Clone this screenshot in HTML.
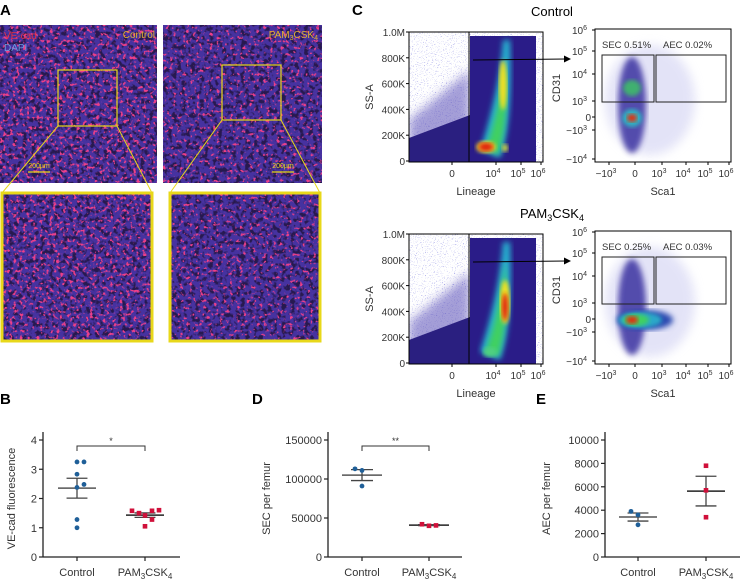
<!DOCTYPE html>
<html><head><meta charset="utf-8"><style>
body{margin:0;background:#fff;}
svg{display:block;font-family:"Liberation Sans",sans-serif;}
</style></head><body>
<svg id="fig" width="740" height="581" viewBox="0 0 740 581" xmlns="http://www.w3.org/2000/svg">
<defs>
<filter id="dark" x="0" y="0" width="100%" height="100%"><feTurbulence type="fractalNoise" baseFrequency="0.22" numOctaves="2" seed="3"/><feColorMatrix type="matrix" values="0 0 0 0 0.02  0 0 0 0 0.01  0 0 0 0 0.08  6 0 0 0 -2.9"/></filter>
<filter id="red" x="0" y="0" width="100%" height="100%"><feTurbulence type="fractalNoise" baseFrequency="0.3" numOctaves="2" seed="8"/><feColorMatrix type="matrix" values="0 0 0 0 0.85  0 0 0 0 0.05  0 0 0 0 0.25  7 0 0 0 -3.95"/></filter>
<filter id="red2" x="0" y="0" width="100%" height="100%"><feTurbulence type="fractalNoise" baseFrequency="0.3" numOctaves="2" seed="11"/><feColorMatrix type="matrix" values="0 0 0 0 0.85  0 0 0 0 0.05  0 0 0 0 0.25  7 0 0 0 -4.2"/></filter>
<filter id="dots" x="0" y="0" width="100%" height="100%"><feTurbulence type="fractalNoise" baseFrequency="0.9" numOctaves="1" seed="2"/><feColorMatrix type="matrix" values="0 0 0 0 0.35  0 0 0 0 0.35  0 0 0 0 0.8  6 0 0 0 -3.6"/></filter>
<filter id="blur3"><feGaussianBlur stdDeviation="3"/></filter>
<filter id="blur5"><feGaussianBlur stdDeviation="5"/></filter>
<filter id="blur2"><feGaussianBlur stdDeviation="2"/></filter>
</defs>
<g id="panelA"></g>
<g id="panelC"></g>
<g id="charts"></g>
</svg>
<script>
// ---- chart data ----
const groups = ["Control", "PAM3CSK4"];
const bControl = [3.25, 3.25, 2.83, 2.48, 2.38, 1.28, 1.0];
const bPam = [1.58, 1.5, 1.58, 1.6, 1.42, 1.28, 1.05];
const bTicks = [0, 1, 2, 3, 4];
const dControl = [113000, 111000, 91000];
const dPam = [42000, 40000, 40500];
const dTicks = [0, 50000, 100000, 150000];
const eControl = [3900, 3600, 2750];
const ePam = [7800, 5700, 3400];
const eTicks = [0, 2000, 4000, 6000, 8000, 10000];

const NS = "http://www.w3.org/2000/svg";
function mk(parent, tag, attrs, text) {
  const e = document.createElementNS(NS, tag);
  for (const k in attrs) e.setAttribute(k, attrs[k]);
  if (text !== undefined) e.textContent = text;
  parent.appendChild(e);
  return e;
}
const fig = document.getElementById('fig');

// ---------- Panel A ----------
const A = document.getElementById('panelA');
let t = mk(A, 'text', {x: 0, y: 15, 'font-size': 15, 'font-weight': 'bold'}, 'A');


function micro(x, y, w, h, redF, name) {
  const g = mk(A, 'g', {});
  
  
  mk(g, 'rect', {x, y, width: w, height: h, fill: '#4632a0'});
  mk(g, 'rect', {x, y, width: w, height: h, filter: 'url(#dark)'});
  mk(g, 'rect', {x, y, width: w, height: h, filter: 'url(' + redF + ')'});
  return g;
}
micro(0, 25, 157, 158, '#red', 'control-image');
micro(163, 25, 159, 158, '#red2', 'pam-image');
micro(2, 193, 150, 148, '#red', 'control-zoom-image');
micro(170, 193, 150, 148, '#red2', 'pam-zoom-image');
const yel = '#e8d81a';
[[2,193,150,148],[170,193,150,148]].forEach((r,i)=>{
  const b = mk(A,'rect',{x:r[0],y:r[1],width:r[2],height:r[3],fill:'none',stroke:yel,'stroke-width':3});
  
  
});
[[58,70,59,56],[222,65,59,55]].forEach((r,i)=>{
  const b = mk(A,'rect',{x:r[0],y:r[1],width:r[2],height:r[3],fill:'none',stroke:yel,'stroke-width':1.2});
  
  
});
mk(A,'path',{d:'M58 126 L2 193 M117 126 L152 193 M222 120 L170 193 M281 120 L320 193',stroke:yel,'stroke-width':1,fill:'none'});
t = mk(A,'text',{x:4,y:39,'font-size':10,fill:'#e0304a'},'VE-cad');
 
t = mk(A,'text',{x:4,y:51,'font-size':10,fill:'#6a9ae0'},'DAPI');
 
t = mk(A,'text',{x:155,y:38,'font-size':10,fill:'#e0b030','text-anchor':'end'},'Control');
 
t = mk(A,'text',{x:318,y:38,'font-size':10,fill:'#e0b030','text-anchor':'end'});
 
t.innerHTML = 'PAM<tspan font-size="7" dy="2">3</tspan><tspan dy="-2">CSK</tspan><tspan font-size="7" dy="2">4</tspan>';
[[28,'control'],[272,'pam']].forEach(s=>{
  mk(A,'line',{x1:s[0],y1:172,x2:s[0]+22,y2:172,stroke:yel,'stroke-width':1.2});
  const tt = mk(A,'text',{x:s[0]+11,y:168,'font-size':7,fill:yel,'text-anchor':'middle'},'200µm');
   
});

// ---------- Panel C ----------
const C = document.getElementById('panelC');
t = mk(C,'text',{x:352,y:15,'font-size':15,'font-weight':'bold'},'C');
 
function flow(dy, pam) {
  const g = mk(C,'g',{});
  
  
  const title = mk(g,'text',{x:552,y:dy+16,'font-size':13,'text-anchor':'middle'});
   
  if (pam) title.innerHTML='PAM<tspan font-size="9" dy="3">3</tspan><tspan dy="-3">CSK</tspan><tspan font-size="9" dy="3">4</tspan>';
  else title.textContent='Control';
  // left plot
  const L = {x:409, y:dy+32, w:134, h:130};
  const cl = 'cl'+dy;
  const cp = mk(fig.querySelector('defs'),'clipPath',{id:cl});
  mk(cp,'rect',{x:L.x,y:L.y,width:L.w,height:L.h});
  const lg = mk(g,'g',{'clip-path':'url(#'+cl+')'});
  mk(lg,'rect',{x:L.x,y:L.y,width:L.w,height:L.h,fill:'#fff'});
  mk(lg,'rect',{x:L.x,y:L.y,width:L.w,height:L.h,filter:'url(#dots)'});
  mk(lg,'path',{d:`M${L.x} ${dy+162} L${L.x} ${dy+120} L470 ${dy+70} L470 ${dy+162} Z`,fill:'#5a50b8',opacity:0.55,filter:'url(#blur5)'});
  mk(lg,'path',{d:`M${L.x} ${dy+162} L${L.x} ${dy+138} L470 ${dy+115} L470 ${dy+162} Z`,fill:'#2a1f80'});
  mk(lg,'path',{d:`M470 ${dy+162} L470 ${dy+36} L536 ${dy+36} L536 ${dy+162} Z`,fill:'#2a1c88'});
  mk(lg,'path',{d:`M480 ${dy+150} C490 ${dy+120},500 ${dy+80},503 ${dy+40} L510 ${dy+40} C512 ${dy+90},510 ${dy+130},500 ${dy+158} Z`,fill:'#27b0d0',filter:'url(#blur3)'});
  mk(lg,'path',{d:`M486 ${dy+148} C496 ${dy+120},502 ${dy+90},505 ${dy+60} C508 ${dy+100},506 ${dy+130},498 ${dy+155} Z`,fill:'#40d060',filter:'url(#blur3)'});
  if (pam) {
    mk(lg,'ellipse',{cx:505,cy:dy+100,rx:5,ry:22,fill:'#f0e020',filter:'url(#blur2)'});
    mk(lg,'ellipse',{cx:505,cy:dy+105,rx:3,ry:14,fill:'#e02010',filter:'url(#blur2)'});
    mk(lg,'ellipse',{cx:490,cy:dy+150,rx:7,ry:5,fill:'#50d080',filter:'url(#blur2)'});
  } else {
    mk(lg,'ellipse',{cx:503,cy:dy+85,rx:4,ry:25,fill:'#f0e020',filter:'url(#blur2)'});
    mk(lg,'ellipse',{cx:486,cy:dy+147,rx:10,ry:6,fill:'#f0c020',filter:'url(#blur2)'});
    mk(lg,'ellipse',{cx:486,cy:dy+147,rx:7,ry:4,fill:'#e02010',filter:'url(#blur2)'});
    mk(lg,'ellipse',{cx:505,cy:dy+148,rx:3,ry:4,fill:'#d0e040',filter:'url(#blur2)'});
  }
  mk(g,'rect',{x:L.x,y:L.y,width:L.w,height:L.h,fill:'none',stroke:'#000','stroke-width':1});
  mk(g,'line',{x1:469,y1:L.y,x2:469,y2:L.y+L.h,stroke:'#000','stroke-width':1});
  const yl = ['0','200K','400K','600K','800K','1.0M'];
  yl.forEach((s,i)=>{
    const yy = dy+161 - i*25.8;
    mk(g,'line',{x1:L.x-3,y1:yy,x2:L.x,y2:yy,stroke:'#000'});
    const tt = mk(g,'text',{x:L.x-4,y:yy+4,'font-size':10,'text-anchor':'end',fill:'#333'},s);
     
  });
  const xl = [[452,'0'],[496,'10','4'],[521,'10','5'],[541,'10','6']];
  xl.forEach(a=>{
    mk(g,'line',{x1:a[0],y1:L.y+L.h,x2:a[0],y2:L.y+L.h+3,stroke:'#000'});
    const tt = mk(g,'text',{x:a[0]-(a[2]?3:0),y:dy+177,'font-size':10,'text-anchor':'middle',fill:'#333'});
    tt.innerHTML = a[1] + (a[2]?'<tspan font-size="7" dy="-4">'+a[2]+'</tspan>':'');
     
  });
  t = mk(g,'text',{x:476,y:dy+195,'font-size':11,'text-anchor':'middle',fill:'#333'},'Lineage');
   
  t = mk(g,'text',{x:0,y:0,'font-size':11,'text-anchor':'middle',fill:'#333',transform:`translate(373 ${dy+97}) rotate(-90)`},'SS-A');
   
  // right plot
  const R = {x:595, y:dy+29, w:136, h:133};
  const cr = 'cr'+dy;
  const cp2 = mk(fig.querySelector('defs'),'clipPath',{id:cr});
  mk(cp2,'rect',{x:R.x,y:R.y,width:R.w,height:R.h});
  const rg = mk(g,'g',{'clip-path':'url(#'+cr+')'});
  mk(rg,'rect',{x:R.x,y:R.y,width:R.w,height:R.h,fill:'#fff'});
  mk(rg,'ellipse',{cx:650,cy:dy+100,rx:45,ry:55,fill:'#d8d8f4',opacity:0.7,filter:'url(#blur5)'});
  mk(rg,'ellipse',{cx:632,cy:dy+105,rx:14,ry:48,fill:'#3a30a0',opacity:0.85,filter:'url(#blur3)'});
  if (pam) {
    mk(rg,'ellipse',{cx:645,cy:dy+118,rx:28,ry:10,fill:'#2a48b0',filter:'url(#blur3)'});
    mk(rg,'ellipse',{cx:640,cy:dy+118,rx:22,ry:8,fill:'#2aa8c8',filter:'url(#blur2)'});
    mk(rg,'ellipse',{cx:636,cy:dy+118,rx:13,ry:6,fill:'#40d060',filter:'url(#blur2)'});
    mk(rg,'ellipse',{cx:632,cy:dy+118,rx:6,ry:4,fill:'#e03010',filter:'url(#blur2)'});
  } else {
    mk(rg,'ellipse',{cx:632,cy:dy+88,rx:9,ry:8,fill:'#40b070',filter:'url(#blur2)'});
    mk(rg,'ellipse',{cx:632,cy:dy+118,rx:10,ry:9,fill:'#30b0c0',filter:'url(#blur2)'});
    mk(rg,'ellipse',{cx:632,cy:dy+118,rx:5,ry:4,fill:'#e03010',filter:'url(#blur2)'});
  }
  mk(g,'rect',{x:R.x,y:R.y,width:R.w,height:R.h,fill:'none',stroke:'#000','stroke-width':1});
  const gy1 = dy+55, gy2 = dy+102;
  t = mk(g,'rect',{x:602,y:gy1,width:52,height:gy2-gy1,fill:'none',stroke:'#222','stroke-width':1});
   
  t = mk(g,'rect',{x:656,y:gy1,width:70,height:gy2-gy1,fill:'none',stroke:'#222','stroke-width':1});
   
  t = mk(g,'text',{x:602,y:dy+48,'font-size':9.5,fill:'#333'}, pam?'SEC 0.25%':'SEC 0.51%');
   
  t = mk(g,'text',{x:663,y:dy+48,'font-size':9.5,fill:'#333'}, pam?'AEC 0.03%':'AEC 0.02%');
   
  const ry = [[30,'10','6'],[51,'10','5'],[74,'10','4'],[101,'10','3'],[117,'0'],[130,'−10','3'],[159,'−10','4']];
  ry.forEach(a=>{
    mk(g,'line',{x1:R.x-3,y1:dy+a[0],x2:R.x,y2:dy+a[0],stroke:'#000'});
    const tt = mk(g,'text',{x:R.x-(a[2]?8:4),y:dy+a[0]+4,'font-size':10,'text-anchor':'end',fill:'#333'});
    tt.innerHTML = a[1] + (a[2]?'<tspan font-size="7" dy="-4">'+a[2]+'</tspan>':'');
     
  });
  const rx = [[609,'−10','3'],[635,'0'],[662,'10','3'],[686,'10','4'],[708,'10','5'],[729,'10','6']];
  rx.forEach(a=>{
    mk(g,'line',{x1:a[0],y1:R.y+R.h,x2:a[0],y2:R.y+R.h+3,stroke:'#000'});
    const tt = mk(g,'text',{x:a[0]-(a[2]?3:0),y:dy+177,'font-size':10,'text-anchor':'middle',fill:'#333'});
    tt.innerHTML = a[1] + (a[2]?'<tspan font-size="7" dy="-4">'+a[2]+'</tspan>':'');
     
  });
  t = mk(g,'text',{x:663,y:dy+195,'font-size':11,'text-anchor':'middle',fill:'#333'},'Sca1');
   
  t = mk(g,'text',{x:0,y:0,'font-size':11,'text-anchor':'middle',fill:'#333',transform:`translate(560 ${dy+88}) rotate(-90)`},'CD31');
   
  t = mk(g,'line',{x1:473,y1:dy+60,x2:566,y2:dy+59,stroke:'#000','stroke-width':1});
   
  mk(g,'path',{d:`M571 ${dy+59} L564 ${dy+55.5} L564 ${dy+62.5} Z`,fill:'#000'});
}
flow(0,false);
flow(202,true);

// ---------- Dot plots ----------
const CH = document.getElementById('charts');
const blue = '#1f5f98', red = '#d0103a';
function mean(a){return a.reduce((s,v)=>s+v,0)/a.length;}
function sem(a){const m=mean(a);const sd=Math.sqrt(a.reduce((s,v)=>s+(v-m)*(v-m),0)/(a.length-1));return sd/Math.sqrt(a.length);}
function dotplot(o) {
  const g = mk(CH,'g',{});
  
  
  const y0 = 557, y1 = 440, maxV = o.ticks[o.ticks.length-1];
  const ys = v => y0 - (v/maxV)*(y0-y1);
  t = mk(g,'text',{x:o.lx,y:404,'font-size':15,'font-weight':'bold'},o.letter);
   
  mk(g,'line',{x1:o.ax,y1:y1-8,x2:o.ax,y2:y0,stroke:'#222','stroke-width':1.3});
  mk(g,'line',{x1:o.ax,y1:y0,x2:o.aend,y2:y0,stroke:'#222','stroke-width':1.3});
  o.ticks.forEach(v=>{
    mk(g,'line',{x1:o.ax-4,y1:ys(v),x2:o.ax,y2:ys(v),stroke:'#222','stroke-width':1.2});
    const tt = mk(g,'text',{x:o.ax-6,y:ys(v)+4,'font-size':11,'text-anchor':'end',fill:'#333'},String(v));
     
  });
  t = mk(g,'text',{x:0,y:0,'font-size':11,'text-anchor':'middle',fill:'#333',transform:`translate(${o.tx} ${(y0+y1)/2}) rotate(-90)`},o.ytitle);
   
  const xs = [o.cx, o.px];
  xs.forEach((x,i)=>{
    mk(g,'line',{x1:x,y1:y0,x2:x,y2:y0+4,stroke:'#222','stroke-width':1.2});
    const tt = mk(g,'text',{x:x,y:576,'font-size':11,'text-anchor':'middle',fill:'#333'});
    if (i===0) tt.textContent = groups[0];
    else tt.innerHTML = 'PAM<tspan font-size="8" dy="3">3</tspan><tspan dy="-3">CSK</tspan><tspan font-size="8" dy="3">4</tspan>';
     
  });
  [o.c, o.p].forEach((arr,gi)=>{
    const x = xs[gi], m = mean(arr), s = sem(arr);
    const col = gi===0?blue:red;
    const ml = mk(g,'line',{x1:x-o.hw,y1:ys(m),x2:x+o.hw,y2:ys(m),stroke:gi===0?'#555':'#222','stroke-width':1.5});
     
    mk(g,'line',{x1:x,y1:ys(m-s),x2:x,y2:ys(m+s),stroke:'#444','stroke-width':1.3});
    mk(g,'line',{x1:x-o.hw*0.55,y1:ys(m+s),x2:x+o.hw*0.55,y2:ys(m+s),stroke:'#444','stroke-width':1.3});
    mk(g,'line',{x1:x-o.hw*0.55,y1:ys(m-s),x2:x+o.hw*0.55,y2:ys(m-s),stroke:'#444','stroke-width':1.3});
    arr.forEach((v,i)=>{
      const off = o.offs[gi][i];
      let pt;
      if (gi===0) pt = mk(g,'circle',{cx:x+off,cy:ys(v),r:2.4,fill:col});
      else pt = mk(g,'rect',{x:x+off-2.3,y:ys(v)-2.3,width:4.6,height:4.6,fill:col});
      
      
    });
  });
  if (o.sig) {
    const by = 446, bh = 5;
    const br = mk(g,'path',{d:`M${o.cx} ${by+bh} L${o.cx} ${by} L${o.px} ${by} L${o.px} ${by+bh}`,fill:'none',stroke:'#333','stroke-width':1});
     
    const st = mk(g,'text',{x:(o.cx+o.px)/2,y:by-2,'font-size':9,'text-anchor':'middle',fill:'#333'},o.sig);
     
  }
}
dotplot({name:'ve-cad-plot',letter:'B',lx:0,ax:43,aend:180,cx:77,px:145,hw:19,tx:15,ticks:bTicks,ytitle:'VE-cad fluorescence',c:bControl,p:bPam,sig:'*',
  offs:[[0,7,0,7,0,0,0],[-13,-6,7,14,0,7,0]]});
dotplot({name:'sec-plot',letter:'D',lx:252,ax:328,aend:462,cx:362,px:429,hw:20,tx:270,ticks:dTicks,ytitle:'SEC per femur',c:dControl,p:dPam,sig:'**',
  offs:[[-7,0,0],[-7,0,7]]});
dotplot({name:'aec-plot',letter:'E',lx:536,ax:605,aend:740,cx:638,px:706,hw:19,tx:550,ticks:eTicks,ytitle:'AEC per femur',c:eControl,p:ePam,sig:null,
  offs:[[-7,0,0],[0,0,0]]});
</script>
</body></html>
